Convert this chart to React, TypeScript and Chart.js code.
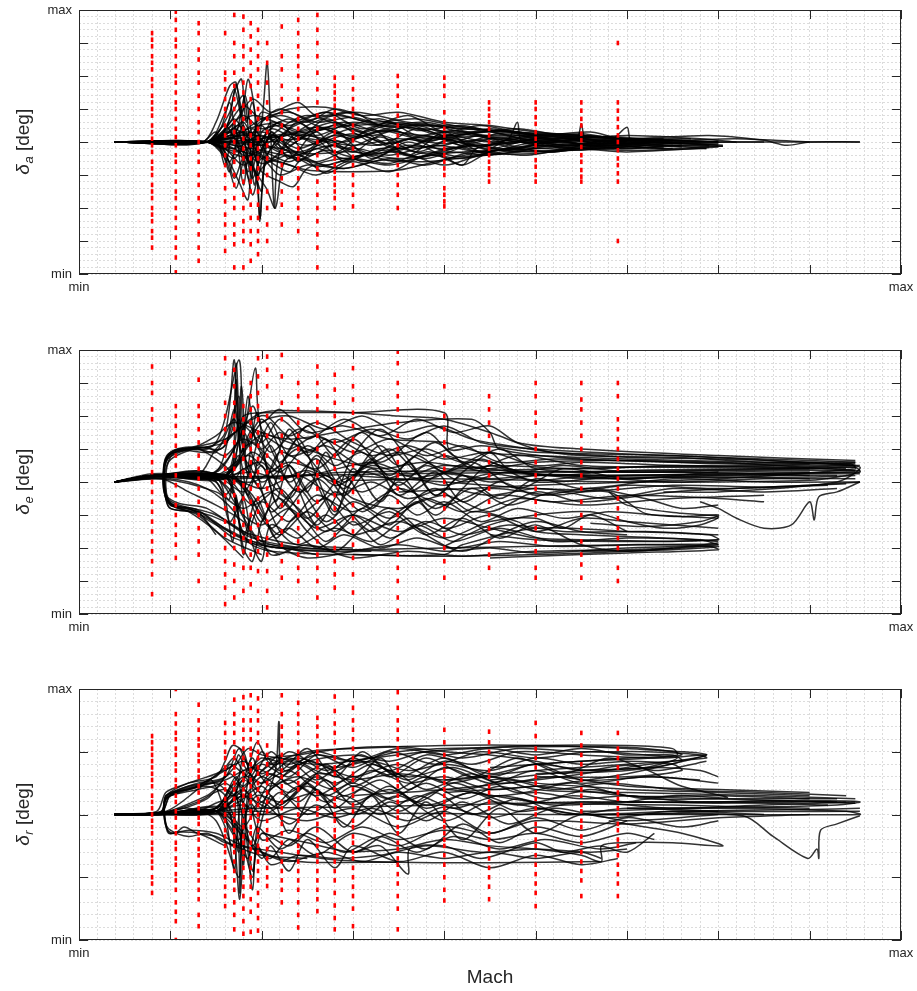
import React, { useEffect, useRef } from 'react';
import { Chart, registerables } from 'chart.js';
Chart.register(...registerables);

const FONT = '"Liberation Sans", Arial, Helvetica, sans-serif';

// Mach axis (normalised, labels "min" .. "max")
const machMin = 0;
const machMax = 9;
// Mach grid points where the red design samples sit
const machGrid = [0.8, 1.06, 1.31, 1.6, 1.7, 1.8, 1.88, 1.96, 2.06, 2.22, 2.4, 2.61, 2.8, 3.0, 3.49, 4.0, 4.49, 5.0, 5.5, 5.9];

// ---------- red sample points (one list of deflections per Mach grid point) ----------
const redA = [
  [3.3, 3.1, 2.9, 2.6, 2.4, 2.2, 1.9, 1.7, 1.4, 1.2, 1.0, 0.8, 0.5, 0.3, 0.1, -0.1, -0.3, -0.6, -0.8, -1.0, -1.3, -1.5, -1.7, -2.0, -2.2, -2.4, -2.7, -2.9, -3.2],
  [3.95, 3.7, 3.4, 3.1, 2.9, 2.6, 2.3, 2.0, 1.8, 1.5, 1.2, 1.0, 0.7, 0.4, 0.15, -0.1, -0.4, -0.6, -0.9, -1.2, -1.5, -1.7, -2.0, -2.3, -2.6, -2.9, -3.2, -3.5, -3.95],
  [3.6, 3.3, 2.8, 2.5, 2.1, 1.8, 1.4, 1.0, 0.6, 0.3, 0.0, -0.3, -0.6, -1.0, -1.3, -1.7, -2.1, -2.4, -2.8, -3.2, -3.6],
  [3.3, 2.1, 1.9, 1.6, 1.3, 1.0, 0.8, 0.5, 0.2, -0.1, -0.4, -0.7, -1.0, -1.4, -1.8, -2.2, -2.5, -2.9, -3.3],
  [3.85, 3.0, 2.6, 2.1, 1.7, 1.3, 1.0, 0.6, 0.3, 0.0, -0.3, -0.6, -1.0, -1.3, -1.7, -2.0, -2.5, -2.8, -3.1, -3.8],
  [3.8, 3.4, 2.9, 2.6, 2.2, 1.8, 1.5, 1.1, 0.7, 0.4, 0.1, -0.2, -0.5, -0.9, -1.2, -1.6, -2.0, -2.4, -2.7, -3.0, -3.8],
  [3.6, 3.2, 2.8, 2.4, 2.0, 1.7, 1.3, 0.9, 0.6, 0.2, -0.1, -0.5, -0.8, -1.2, -1.5, -1.9, -2.3, -2.7, -3.1, -3.6],
  [3.4, 3.0, 2.6, 2.2, 1.8, 1.4, 1.0, 0.7, 0.4, 0.1, -0.2, -0.5, -0.8, -1.1, -1.5, -1.9, -2.3, -2.7, -3.0, -3.4],
  [3.0, 2.4, 1.8, 1.2, 0.7, 0.3, -0.1, -0.5, -1.0, -1.5, -2.0, -2.5, -3.0],
  [3.5, 2.6, 2.2, 1.7, 1.3, 0.9, 0.5, 0.1, -0.3, -0.7, -1.1, -1.5, -1.9, -2.5],
  [3.7, 3.3, 2.9, 2.6, 2.3, 2.0, 1.6, 1.3, 1.0, 0.7, 0.4, 0.1, -0.2, -0.5, -0.8, -1.1, -1.4, -1.7, -2.0, -2.3, -2.7],
  [3.85, 3.4, 3.0, 2.6, 2.1, 1.6, 1.2, 0.8, 0.4, 0.0, -0.4, -0.8, -1.2, -1.6, -2.0, -2.4, -2.8, -3.2, -3.8],
  [1.95, 1.7, 1.5, 1.3, 1.1, 0.9, 0.7, 0.5, 0.3, 0.1, -0.1, -0.3, -0.5, -0.7, -0.9, -1.1, -1.3, -1.5, -1.7, -2.0],
  [1.95, 1.6, 1.3, 1.0, 0.8, 0.5, 0.3, 0.05, -0.2, -0.45, -0.7, -1.0, -1.3, -1.6, -1.95],
  [2.0, 1.7, 1.4, 1.1, 0.8, 0.5, 0.2, -0.1, -0.4, -0.7, -1.0, -1.3, -1.6, -2.0],
  [1.95, 1.7, 1.4, 0.9, 0.6, 0.4, 0.2, 0.0, -0.2, -0.4, -0.6, -0.8, -1.0, -1.4, -1.6, -1.8, -1.95],
  [1.2, 1.0, 0.8, 0.6, 0.4, 0.2, 0.0, -0.2, -0.4, -0.6, -0.8, -1.0, -1.2],
  [1.2, 1.0, 0.75, 0.55, 0.3, 0.1, -0.1, -0.3, -0.55, -0.75, -1.0, -1.2],
  [1.2, 0.95, 0.7, 0.5, 0.25, 0.05, -0.15, -0.4, -0.6, -0.85, -1.05, -1.2],
  [3.0, 1.2, 0.95, 0.7, 0.45, 0.2, 0.0, -0.25, -0.5, -0.7, -0.95, -1.2, -3.0],
];

const redE = [
  [3.5, 3.0, 2.7, 2.2, 1.9, 1.5, 1.2, 0.9, 0.6, 0.3, 0.0, -0.3, -0.6, -0.9, -1.2, -1.5, -1.8, -2.1, -2.4, -2.8, -3.4],
  [2.3, 2.0, 1.7, 1.4, 1.1, 0.8, 0.5, 0.2, -0.1, -0.4, -0.7, -1.0, -1.3, -1.6, -1.9, -2.3],
  [3.1, 2.3, 2.0, 1.6, 1.2, 0.8, 0.4, 0.1, -0.2, -0.6, -1.0, -1.4, -1.8, -2.2, -3.0],
  [3.75, 3.3, 2.4, 2.0, 1.6, 1.2, 0.8, 0.4, 0.0, -0.4, -0.8, -1.2, -1.6, -2.0, -2.4, -2.8, -3.2, -3.7],
  [3.4, 2.9, 2.4, 2.0, 1.6, 1.2, 0.8, 0.4, 0.0, -0.4, -0.8, -1.2, -1.6, -2.0, -2.5, -3.0, -3.5],
  [2.3, 1.9, 1.5, 1.1, 0.7, 0.3, -0.1, -0.5, -0.9, -1.3, -1.7, -2.1, -2.6, -3.3],
  [3.0, 2.6, 2.2, 1.8, 1.4, 1.0, 0.6, 0.2, -0.2, -0.6, -1.0, -1.4, -1.8, -2.2, -2.6, -3.1],
  [3.75, 3.2, 2.7, 2.3, 1.9, 1.5, 1.1, 0.7, 0.3, -0.1, -0.5, -0.9, -1.3, -1.7, -2.1, -2.7],
  [3.8, 3.4, 2.9, 2.0, 1.4, 0.8, 0.3, -0.2, -0.7, -1.2, -1.7, -2.2, -2.7, -3.3, -3.8],
  [3.85, 3.2, 2.4, 1.9, 1.4, 0.9, 0.5, 0.1, -0.3, -0.7, -1.1, -1.5, -1.9, -2.4, -2.9],
  [3.0, 2.6, 2.2, 1.8, 1.4, 1.0, 0.6, 0.2, -0.2, -0.6, -1.0, -1.4, -1.8, -2.2, -2.6, -3.0],
  [3.5, 3.0, 2.6, 2.2, 1.8, 1.4, 1.0, 0.6, 0.2, -0.2, -0.6, -1.0, -1.4, -1.8, -2.2, -2.6, -3.0, -3.5],
  [3.25, 2.8, 2.4, 2.0, 1.6, 1.2, 0.8, 0.4, 0.0, -0.4, -0.8, -1.2, -1.6, -2.0, -2.4, -2.8, -3.2],
  [3.45, 2.9, 2.5, 2.1, 1.7, 1.3, 0.9, 0.5, 0.1, -0.3, -0.7, -1.1, -1.5, -1.9, -2.3, -2.8, -3.35],
  [3.95, 3.6, 3.0, 2.6, 2.2, 1.8, 1.4, 1.0, 0.6, 0.2, -0.2, -0.6, -1.0, -1.4, -1.8, -2.2, -2.6, -3.0, -3.5, -3.9],
  [2.9, 2.4, 2.0, 1.6, 1.2, 0.8, 0.4, 0.0, -0.4, -0.8, -1.2, -1.6, -2.0, -2.4, -2.9],
  [2.6, 2.2, 1.8, 1.4, 1.0, 0.6, 0.2, -0.2, -0.6, -1.0, -1.4, -1.8, -2.2, -2.6],
  [3.0, 2.6, 2.1, 1.8, 1.4, 1.0, 0.6, 0.2, -0.2, -0.6, -1.0, -1.4, -1.8, -2.1, -2.6, -2.9],
  [3.0, 2.5, 2.2, 1.8, 1.4, 1.0, 0.6, 0.2, -0.2, -0.6, -1.0, -1.4, -1.8, -2.2, -2.5, -2.9],
  [3.0, 2.6, 1.9, 1.6, 1.3, 1.0, 0.7, 0.4, 0.1, -0.2, -0.5, -0.8, -1.1, -1.4, -1.7, -2.0, -2.6, -3.0],
];

const redR = [
  [1.25, 1.15, 1.05, 0.95, 0.85, 0.75, 0.65, 0.55, 0.45, 0.3, 0.2, 0.1, 0.0, -0.1, -0.2, -0.3, -0.45, -0.55, -0.65, -0.75, -0.85, -1.0, -1.1, -1.25],
  [2.0, 1.6, 1.45, 1.3, 1.2, 1.05, 0.95, 0.8, 0.7, 0.55, 0.45, 0.3, 0.2, 0.05, -0.05, -0.2, -0.3, -0.45, -0.55, -0.7, -0.8, -0.95, -1.05, -1.2, -1.4, -1.55, -1.7, -2.0],
  [1.75, 1.5, 1.35, 1.2, 1.1, 0.95, 0.85, 0.7, 0.6, 0.45, 0.35, 0.2, 0.1, -0.05, -0.15, -0.3, -0.4, -0.55, -0.65, -0.8, -0.9, -1.05, -1.2, -1.35, -1.6, -1.78],
  [1.46, 1.3, 1.15, 1.0, 0.9, 0.75, 0.65, 0.5, 0.4, 0.25, 0.15, 0.0, -0.1, -0.25, -0.35, -0.5, -0.6, -0.75, -0.85, -1.0, -1.15, -1.3, -1.46],
  [1.83, 1.6, 1.45, 1.3, 1.15, 1.0, 0.9, 0.75, 0.65, 0.5, 0.4, 0.25, 0.15, 0.0, -0.1, -0.25, -0.35, -0.5, -0.6, -0.75, -0.9, -1.05, -1.2, -1.4, -1.6, -1.83],
  [1.87, 1.7, 1.5, 1.35, 1.2, 1.05, 0.9, 0.8, 0.65, 0.55, 0.4, 0.3, 0.15, 0.05, -0.1, -0.2, -0.35, -0.45, -0.6, -0.7, -0.85, -1.0, -1.15, -1.3, -1.5, -1.7, -1.9],
  [1.9, 1.7, 1.5, 1.35, 1.2, 1.05, 0.95, 0.8, 0.7, 0.55, 0.45, 0.3, 0.2, 0.05, -0.05, -0.2, -0.3, -0.45, -0.55, -0.7, -0.85, -1.0, -1.15, -1.35, -1.55, -1.87],
  [1.85, 1.65, 1.5, 1.3, 1.15, 1.0, 0.9, 0.75, 0.65, 0.5, 0.4, 0.25, 0.15, 0.0, -0.1, -0.25, -0.35, -0.5, -0.6, -0.75, -0.9, -1.05, -1.25, -1.45, -1.65, -1.85],
  [1.1, 0.95, 0.8, 0.65, 0.5, 0.35, 0.2, 0.05, -0.1, -0.25, -0.4, -0.55, -0.7, -0.85, -1.0, -1.14],
  [1.9, 1.6, 1.4, 1.25, 1.1, 0.95, 0.85, 0.7, 0.6, 0.45, 0.35, 0.2, 0.1, -0.05, -0.15, -0.3, -0.45, -0.6, -0.75, -0.9, -1.05, -1.2, -1.4],
  [1.78, 1.6, 1.45, 1.3, 1.15, 1.0, 0.9, 0.75, 0.65, 0.5, 0.4, 0.25, 0.15, 0.0, -0.1, -0.25, -0.35, -0.5, -0.6, -0.75, -0.9, -1.05, -1.2, -1.4, -1.6, -1.8],
  [1.54, 1.4, 1.25, 1.1, 1.0, 0.85, 0.75, 0.6, 0.5, 0.35, 0.25, 0.1, 0.0, -0.15, -0.25, -0.4, -0.5, -0.65, -0.75, -0.9, -1.05, -1.2, -1.35, -1.54],
  [1.88, 1.65, 1.45, 1.3, 1.15, 1.0, 0.9, 0.75, 0.65, 0.5, 0.4, 0.25, 0.15, 0.0, -0.1, -0.25, -0.35, -0.5, -0.6, -0.75, -0.9, -1.05, -1.25, -1.45, -1.65, -1.83],
  [1.7, 1.5, 1.35, 1.2, 1.05, 0.9, 0.8, 0.65, 0.55, 0.4, 0.3, 0.15, 0.05, -0.1, -0.2, -0.35, -0.45, -0.6, -0.7, -0.85, -1.0, -1.15, -1.3, -1.5, -1.78],
  [1.95, 1.7, 1.5, 1.35, 1.2, 1.05, 0.95, 0.8, 0.7, 0.55, 0.45, 0.3, 0.2, 0.05, -0.05, -0.2, -0.3, -0.45, -0.55, -0.7, -0.8, -0.95, -1.1, -1.3, -1.5, -1.83],
  [1.35, 1.15, 0.95, 0.8, 0.7, 0.6, 0.5, 0.4, 0.3, 0.2, 0.1, 0.0, -0.1, -0.2, -0.3, -0.4, -0.5, -0.65, -0.8, -1.0, -1.2, -1.37],
  [1.32, 1.15, 1.0, 0.85, 0.7, 0.6, 0.45, 0.35, 0.2, 0.1, -0.05, -0.15, -0.3, -0.4, -0.55, -0.7, -0.85, -1.0, -1.15, -1.35],
  [1.46, 1.25, 1.05, 0.9, 0.75, 0.6, 0.5, 0.35, 0.25, 0.1, 0.0, -0.15, -0.25, -0.4, -0.5, -0.65, -0.8, -0.95, -1.1, -1.25, -1.46],
  [1.3, 1.1, 0.95, 0.8, 0.65, 0.55, 0.4, 0.3, 0.15, 0.05, -0.1, -0.2, -0.35, -0.45, -0.6, -0.75, -0.9, -1.05, -1.3],
  [1.3, 1.05, 0.9, 0.75, 0.6, 0.5, 0.35, 0.25, 0.1, 0.0, -0.15, -0.25, -0.4, -0.5, -0.65, -0.8, -0.95, -1.1, -1.3],
];

// ---------- black trajectories: [Mach, deflection] pairs ----------
const tracesA = [
  [[0.39, 0], [1.35, 0], [1.5, 0.6], [1.65, 1.7], [1.72, 1.8], [1.8, 0.2], [1.9, -0.8], [2.0, 0.3], [2.2, 0.5], [2.6, 0.2], [3.0, 0.6], [3.5, 0.3], [4.0, 0.1], [4.5, -0.2], [5.0, 0.1], [5.6, -0.1], [6.2, 0.0]],
  [[0.39, 0], [1.4, 0], [1.6, 0.9], [1.7, 1.6], [1.78, 0.8], [1.85, 1.9], [1.92, 1.0], [1.98, -2.3], [2.05, -0.5], [2.3, 0.4], [2.8, 0.8], [3.3, 0.5], [3.8, 0.4], [4.3, 0.2], [4.9, 0.0], [5.5, 0.2], [6.3, 0.0], [7.0, -0.1]],
  [[0.39, 0], [1.4, 0], [1.7, 0.3], [1.9, -0.4], [2.0, 0.6], [2.06, 2.4], [2.1, 0.2], [2.14, -2.0], [2.2, -0.3], [2.5, 0.5], [3.0, 0.9], [3.6, 0.6], [4.2, 0.4], [4.8, 0.3], [5.4, 0.1], [6.0, 0.0], [6.87, -0.2]],
  [[0.39, 0], [1.4, 0], [1.6, -0.4], [1.75, -1.2], [1.85, -1.75], [1.9, -0.3], [2.0, -0.9], [2.2, -1.2], [2.35, -1.35], [2.5, -0.8], [2.9, -0.5], [3.4, -0.7], [3.9, -0.4], [4.2, -0.7], [4.5, -0.3], [5.0, -0.2], [5.8, -0.1], [6.4, -0.2]],
  [[0.39, 0], [1.4, 0], [1.8, -0.3], [2.2, -0.6], [2.5, -0.85], [3.0, -0.9], [3.5, -0.85], [3.9, -0.6], [4.4, -0.3], [5.0, -0.15], [6.0, -0.1], [7.05, -0.13]],
  [[0.39, 0], [1.4, 0], [1.6, 0.4], [1.8, 1.1], [2.0, 0.7], [2.3, 1.0], [2.7, 1.05], [3.1, 0.8], [3.5, 0.9], [4.0, 0.6], [4.5, 0.5], [5.0, 0.3], [5.5, 0.2], [6.0, 0.1], [6.9, 0.2], [7.5, 0.05], [7.75, -0.1], [8.0, 0.0], [8.55, 0.0]],
  [[0.39, 0], [1.45, 0], [1.7, -0.5], [1.9, 0.4], [2.1, -0.2], [2.4, 0.6], [2.8, -0.3], [3.2, 0.4], [3.6, -0.4], [4.0, 0.3], [4.4, -0.3], [4.8, 0.2], [5.3, -0.2], [5.8, 0.1], [6.5, 0.0]],
  [[0.39, 0], [1.35, 0], [1.5, 0.3], [1.65, -0.6], [1.8, 0.5], [1.95, -1.0], [2.1, 0.3], [2.3, -0.5], [2.6, 0.3], [2.9, -0.6], [3.3, -0.2], [3.8, -0.5], [4.3, -0.1], [4.8, -0.3], [5.2, 0.0], [5.9, -0.2], [6.6, -0.1]],
  [[0.39, 0], [1.4, 0], [1.6, 0.5], [1.75, -0.2], [1.88, -1.2], [1.95, 0.5], [2.2, 0.8], [2.5, 0.6], [2.8, 1.0], [3.2, 0.7], [3.6, 0.5], [4.1, 0.5], [4.6, 0.3], [5.1, 0.2], [5.7, 0.1], [6.3, 0.05]],
  [[0.39, 0], [1.45, 0], [1.6, -0.3], [1.7, -1.1], [1.8, -0.5], [1.9, -1.6], [2.0, -0.8], [2.3, -0.3], [2.7, -0.7], [3.1, -0.4], [3.5, -0.6], [4.0, -0.3], [4.5, -0.4], [5.0, -0.2], [5.5, -0.25], [6.2, -0.1]],
  [[0.39, 0], [1.35, 0], [1.55, 0.2], [1.7, 0.7], [1.85, 0.2], [2.0, 0.5], [2.2, -0.2], [2.5, 0.2], [2.8, 0.5], [3.1, 0.3], [3.4, 0.6], [3.7, 0.2], [4.1, 0.35], [4.6, 0.1], [5.1, 0.2], [5.6, 0.0], [6.0, 0.1], [6.7, 0.0], [7.5, 0.0]],
  [[0.39, 0], [1.4, 0], [1.8, 0.1], [2.0, -0.4], [2.3, -0.9], [2.45, -0.5], [2.7, -0.95], [3.0, -0.6], [3.4, -0.9], [3.8, -0.4], [4.2, -0.5], [4.7, -0.2], [5.2, -0.3], [5.8, -0.05], [6.4, -0.15]],
  [[0.39, 0], [1.4, 0], [1.7, 0.6], [1.9, 1.3], [2.1, 0.9], [2.4, 1.2], [2.6, 0.8], [3.0, 0.9], [3.3, 0.5], [3.8, 0.6], [4.3, 0.3], [4.8, 0.4], [5.3, 0.2], [5.9, 0.15], [6.5, 0.05], [7.2, 0.1], [8.0, 0.0]],
  [[0.39, 0], [1.4, 0], [1.6, -0.2], [1.8, 0.6], [2.0, -0.5], [2.2, 0.1], [2.4, -0.6], [2.7, 0.1], [3.0, -0.3], [3.3, 0.2], [3.7, -0.2], [4.1, 0.1], [4.5, -0.1], [5.0, 0.05], [5.6, -0.05], [6.1, 0.0]],
  [[0.39, 0], [1.45, 0], [1.65, 0.3], [1.85, -0.6], [2.05, -1.4], [2.15, -2.0], [2.25, -0.6], [2.5, -0.3], [2.8, -0.1], [3.2, -0.4], [3.6, -0.1], [4.0, -0.2], [4.8, 0.0], [5.4, -0.1], [6.0, 0.0]],
  [[0.39, 0], [1.4, 0], [1.55, 0.1], [1.75, 0.5], [1.9, -0.3], [2.1, 0.4], [2.4, 0.1], [2.7, 0.7], [3.0, 0.3], [3.3, -0.1], [3.7, 0.4], [4.2, 0.0], [4.6, 0.25], [5.2, 0.05], [5.45, 0.1], [5.5, 0.55], [5.55, 0.1], [6.0, 0.05]],
  [[0.39, 0], [1.4, 0], [1.7, -0.2], [2.0, 0.2], [2.4, -0.4], [2.8, 0.3], [3.2, -0.5], [3.6, 0.0], [4.0, -0.45], [4.2, -0.7], [4.35, -0.2], [4.7, 0.1], [4.8, 0.6], [4.85, 0.0], [5.2, -0.1], [5.8, 0.0], [6.0, 0.45], [6.05, 0.0], [6.6, -0.05]],
  [[0.39, 0], [1.4, 0], [1.65, 0.9], [1.72, 1.75], [1.8, 0.5], [1.85, -0.5], [1.95, 0.4], [2.2, 1.0], [2.6, 0.5], [3.0, 0.2], [3.5, 0.6], [4.0, 0.2], [4.6, 0.35], [5.2, 0.1], [6.0, 0.2], [6.8, 0.1], [7.2, 0.0]],
  [[0.39, 0], [1.4, 0], [1.7, 0.1], [1.9, -0.8], [2.0, -1.5], [2.05, -0.6], [2.3, -0.7], [2.6, -1.0], [3.0, -0.5], [3.5, -0.3], [4.0, -0.7], [4.4, -0.4], [5.0, -0.35], [5.5, -0.2], [6.0, -0.25], [6.87, -0.2]],
  [[0.39, 0], [1.4, 0], [1.6, 0.1], [2.0, 0.3], [2.5, -0.1], [3.0, 0.4], [3.5, -0.2], [4.0, 0.2], [4.5, 0.0], [5.0, 0.15], [5.5, -0.05], [6.0, 0.1], [6.5, 0.0], [7.05, -0.1]],
  [[0.39, 0], [1.45, 0], [1.7, 0.4], [1.95, 0.0], [2.2, 0.6], [2.5, -0.4], [2.8, -0.1], [3.1, -0.6], [3.5, -0.2], [4.0, -0.1], [4.4, 0.2], [4.8, -0.15], [5.3, 0.1], [5.8, -0.1], [6.3, 0.0]],
  [[0.39, 0], [1.4, 0], [1.55, -0.2], [1.65, -0.9], [1.75, 0.3], [1.85, -0.9], [1.95, 0.2], [2.1, -0.5], [2.4, 0.2], [2.9, 0.0], [3.3, 0.35], [3.8, 0.05], [4.5, 0.3], [5.0, 0.0], [5.7, 0.15], [6.2, 0.0], [7.0, 0.0], [8.55, 0.0]],
  [[0.39, 0], [1.4, 0], [1.6, 0.2], [1.9, 0.8], [2.3, 0.5], [2.7, 0.9], [3.1, 0.4], [3.6, 0.8], [4.0, 0.3], [4.4, 0.5], [5.0, 0.2], [5.6, 0.3], [6.0, 0.0]],
  [[0.39, 0], [1.4, 0], [1.9, -0.2], [2.4, -0.5], [2.9, -0.8], [3.4, -0.5], [3.8, -0.7], [4.3, -0.3], [4.9, -0.4], [5.4, -0.2], [6.0, -0.3], [7.0, -0.15]],
  [[0.39, 0], [1.4, 0], [1.7, 0.2], [2.0, -0.1], [2.3, 0.3], [2.6, 0.0], [3.0, 0.25], [3.4, -0.05], [3.8, 0.2], [4.2, -0.1], [4.6, 0.15], [5.0, -0.05], [5.5, 0.1], [6.0, -0.05], [6.5, 0.05], [7.0, 0.0]],
  [[0.39, 0], [1.4, 0], [1.75, -0.3], [2.1, 0.1], [2.4, -0.3], [2.8, 0.05], [3.2, -0.35], [3.6, 0.1], [4.0, -0.25], [4.4, 0.05], [4.8, -0.2], [5.2, 0.05], [5.7, -0.15], [6.2, 0.0], [6.9, -0.1]],
  [[0.39, 0], [1.4, 0], [1.6, 0.3], [1.8, 0.8], [2.0, 0.4], [2.3, 0.7], [2.6, 0.35], [2.9, 0.6], [3.3, 0.3], [3.7, 0.5], [4.1, 0.2], [4.5, 0.4], [5.0, 0.15], [5.5, 0.25], [6.0, 0.05], [6.4, 0.1]],
  [[0.39, 0], [1.4, 0], [1.6, -0.2], [1.8, -0.7], [2.0, -0.3], [2.3, -0.6], [2.6, -0.2], [2.9, -0.5], [3.3, -0.25], [3.7, -0.45], [4.1, -0.15], [4.5, -0.35], [5.0, -0.1], [5.5, -0.2], [6.0, -0.05], [6.6, -0.15]],
  [[0.39, 0], [1.4, 0], [1.8, 0.2], [2.2, 0.15], [2.6, 0.45], [3.0, 0.1], [3.4, 0.4], [3.8, 0.0], [4.2, 0.3], [4.7, -0.05], [5.2, 0.2], [5.7, -0.05], [6.2, 0.1], [6.8, 0.0]],
  [[0.39, 0], [1.4, 0], [1.85, 0.3], [2.2, -0.3], [2.5, 0.2], [2.9, -0.2], [3.3, 0.15], [3.7, -0.3], [4.1, 0.1], [4.5, -0.25], [5.0, 0.0], [5.4, -0.1], [6.0, 0.05], [6.5, -0.05]],
  [[0.39, 0], [1.4, 0], [1.55, 0.4], [1.65, 1.2], [1.72, 0.3], [1.82, 1.4], [1.9, 0.2], [2.0, 0.9], [2.3, 0.6], [2.7, 0.9], [3.2, 0.6], [3.7, 0.7], [4.2, 0.45], [4.8, 0.3], [5.4, 0.2], [6.0, 0.1], [6.7, 0.1]],
  [[0.39, 0], [1.4, 0], [1.6, -0.5], [1.72, -1.4], [1.82, -0.4], [1.9, -1.1], [2.0, -0.5], [2.2, -1.0], [2.5, -0.7], [2.9, -0.8], [3.3, -0.55], [3.8, -0.6], [4.3, -0.45], [4.8, -0.3], [5.4, -0.25], [6.0, -0.15], [6.5, -0.2]],
  [[0.39, 0], [1.4, 0], [2.0, 0.1], [2.5, 0.3], [3.0, 0.5], [3.5, 0.55], [4.0, 0.45], [4.5, 0.35], [5.0, 0.25], [5.5, 0.15], [6.0, 0.1], [6.5, 0.05], [7.0, 0.0]],
  [[0.39, 0], [1.4, 0], [2.0, -0.1], [2.5, -0.35], [3.0, -0.3], [3.5, -0.5], [4.0, -0.35], [4.5, -0.25], [5.0, -0.3], [5.5, -0.15], [6.0, -0.2], [6.5, -0.1], [7.05, -0.13]],
  [[0.39, 0], [1.4, 0], [1.62, 0.5], [1.7, 1.5], [1.78, 1.9], [1.83, 0.6], [1.9, 1.2], [2.0, -0.2], [2.1, 0.6], [2.4, 0.3], [2.8, 0.6], [3.2, 0.2], [3.6, 0.45], [4.0, 0.15], [4.6, 0.2], [5.2, 0.0], [5.8, 0.1], [6.3, 0.0]],
  [[0.39, 0], [1.4, 0], [1.7, -0.2], [1.93, -0.9], [1.98, -2.4], [2.02, -0.8], [2.1, 0.3], [2.3, -0.2], [2.6, -0.6], [3.0, -0.2], [3.4, -0.4], [3.9, -0.1], [4.4, -0.3], [5.0, -0.1], [5.6, -0.2], [6.2, -0.05]],
  [[0.39, 0], [1.4, 0], [1.8, 0.35], [2.1, 0.55], [2.4, 0.2], [2.7, 0.45], [3.0, 0.15], [3.4, 0.35], [3.8, 0.1], [4.3, 0.25], [4.8, 0.05], [5.3, 0.15], [5.9, 0.0], [6.5, 0.05]],
  [[0.39, 0], [1.4, 0], [1.8, -0.45], [2.1, -0.15], [2.4, -0.55], [2.7, -0.25], [3.0, -0.45], [3.4, -0.15], [3.8, -0.35], [4.3, -0.1], [4.8, -0.25], [5.3, -0.05], [5.9, -0.15], [6.4, -0.05]],
  [[0.39, 0], [1.4, 0], [1.7, 0.15], [2.0, 0.7], [2.3, 0.9], [2.6, 0.6], [3.0, 0.75], [3.4, 0.45], [3.8, 0.55], [4.2, 0.3], [4.7, 0.35], [5.2, 0.1], [5.8, 0.15], [6.3, 0.0]],
  [[0.39, 0], [1.4, 0], [1.7, -0.1], [2.0, -0.65], [2.3, -0.4], [2.6, -0.75], [3.0, -0.5], [3.4, -0.65], [3.8, -0.3], [4.2, -0.45], [4.7, -0.2], [5.2, -0.3], [5.8, -0.1], [6.3, -0.2], [6.9, -0.15]],
  [[0.39, 0], [1.4, 0], [2.0, 0.0], [2.5, 0.1], [3.0, -0.1], [3.5, 0.1], [4.0, -0.05], [4.5, 0.1], [5.0, -0.05], [5.5, 0.05], [6.0, -0.05], [6.5, 0.0], [7.0, 0.02]],
  [[0.39, 0], [1.4, 0], [1.5, 0.2], [1.6, -0.7], [1.7, 0.6], [1.8, -1.3], [1.88, 0.3], [1.95, -0.6], [2.1, 0.2], [2.4, -0.2], [2.8, 0.2], [3.2, -0.1], [3.8, 0.15], [4.4, -0.1], [5.0, 0.1], [5.6, 0.0], [6.2, 0.05]],
  [[0.39, 0], [1.4, 0], [1.55, 0.15], [1.7, 1.0], [1.8, 1.4], [1.86, 0.2], [1.92, -1.3], [2.0, -0.2], [2.2, 0.4], [2.5, 0.8], [2.9, 0.5], [3.3, 0.7], [3.7, 0.35], [4.2, 0.5], [4.7, 0.2], [5.3, 0.25], [6.0, 0.05]],
  [[0.39, 0], [1.4, 0], [1.9, 0.05], [2.3, 0.25], [2.7, -0.15], [3.1, 0.2], [3.5, -0.25], [3.9, 0.15], [4.3, -0.2], [4.8, 0.1], [5.3, -0.1], [5.8, 0.05], [6.4, -0.05], [7.0, -0.05]],
];

const tracesE = [
  [[0.39, 0], [0.8, 0.2], [1.5, 0.15], [2.5, 0.2], [3.5, 0.25], [5.0, 0.3], [6.5, 0.35], [8.0, 0.4], [8.5, 0.45], [8.55, 0.3], [8.0, 0.05], [6.0, 0.0], [4.0, 0.1], [3.0, 0.05]],
  [[0.39, 0], [0.8, 0.25], [1.3, 0.2], [2.0, 0.15], [3.0, 0.3], [4.5, 0.35], [6.0, 0.45], [7.5, 0.5], [8.45, 0.55], [8.5, 0.4], [7.0, 0.1], [5.0, -0.1], [3.5, -0.3]],
  [[0.39, 0], [0.8, 0.15], [1.6, 0.1], [2.5, 0.2], [3.2, 0.6], [3.6, 0.3], [4.0, 0.8], [4.4, 0.4], [5.0, 0.6], [6.0, 0.65], [7.0, 0.55], [8.0, 0.5], [8.55, 0.45], [8.3, 0.0], [7.0, -0.3], [6.4, -0.3]],
  [[3.0, -2.0], [2.4, -1.9], [1.8, -1.5], [1.4, -0.8], [1.1, -0.65], [0.95, -0.4], [0.92, 0.2], [0.96, 0.8], [1.1, 1.0], [1.4, 1.0], [1.6, 1.5], [1.7, 3.7], [1.75, 1.2], [1.8, 2.0], [2.1, 2.1], [3.0, 2.1], [4.0, 2.1], [4.05, 1.0], [4.4, 1.1], [5.0, 0.9], [6.5, 0.8], [8.5, 0.5]],
  [[2.6, -2.2], [2.0, -1.8], [1.5, -1.0], [1.1, -0.7], [0.97, -0.5], [0.93, 0.0], [0.95, 0.7], [1.1, 0.95], [1.5, 1.2], [1.75, 3.7], [1.8, 1.4], [1.93, 3.45], [2.0, 1.6], [2.3, 1.3], [2.8, 1.5], [3.5, 1.8], [4.3, 1.9], [4.5, 1.5], [4.6, 1.0], [5.5, 0.7], [7.0, 0.6], [8.5, 0.35]],
  [[3.5, -2.1], [2.5, -2.0], [1.9, -1.7], [1.6, -1.2], [1.3, -0.9], [1.0, -0.8], [0.94, -0.3], [0.95, 0.4], [1.05, 0.9], [1.3, 1.1], [1.5, 1.4], [1.7, 1.8], [2.0, 1.5], [2.4, 1.1], [2.8, 0.7], [3.3, 0.4], [3.8, 0.6], [4.5, 0.3], [5.5, 0.2], [7.0, 0.25], [8.55, 0.3]],
  [[0.39, 0], [0.9, 0.1], [1.2, -0.3], [1.5, -0.7], [1.8, -1.2], [2.0, -1.9], [2.4, -2.0], [3.0, -2.05], [4.0, -2.0], [5.0, -1.95], [6.0, -1.9], [7.0, -1.9], [6.0, -2.1], [5.0, -2.2], [4.0, -2.25], [3.0, -2.2]],
  [[0.39, 0], [1.0, 0.1], [1.4, -0.2], [1.7, -0.9], [1.85, -1.8], [2.1, -2.1], [3.0, -2.2], [4.0, -2.2], [4.2, -1.9], [5.0, -1.4], [6.0, -1.5], [6.9, -1.6], [7.0, -1.75], [6.0, -1.8], [5.0, -1.75], [4.5, -1.6]],
  [[2.2, -2.2], [1.7, -1.6], [1.3, -0.85], [1.05, -0.7], [0.95, -0.45], [0.92, 0.1], [0.97, 0.7], [1.2, 1.0], [1.6, 1.3], [1.9, 1.9], [2.05, 2.0], [2.3, 1.4], [2.6, 1.8], [3.0, 1.2], [3.4, 0.8], [3.8, 1.0], [4.2, 0.6], [4.5, 0.9], [4.7, 0.4], [5.2, 0.3], [6.5, 0.3], [8.0, 0.2]],
  [[0.39, 0], [0.8, 0.2], [1.5, 0.2], [1.8, -0.3], [2.0, 0.5], [2.2, -0.8], [2.5, 0.3], [2.8, -1.0], [3.0, 0.4], [3.3, -0.6], [3.6, 0.6], [3.9, -0.4], [4.2, 0.2], [4.6, -0.5], [5.0, 0.1], [5.5, -0.2], [6.5, 0.1], [7.5, 0.0], [8.55, 0.0]],
  [[0.39, 0], [0.8, 0.2], [1.6, 0.1], [1.9, 1.2], [2.1, 0.4], [2.3, 1.6], [2.5, 0.8], [2.7, 1.3], [3.0, 0.3], [3.4, 1.0], [3.8, 0.1], [4.3, 0.6], [4.8, -0.2], [5.3, 0.4], [6.0, 0.1], [7.0, 0.3], [8.0, 0.3]],
  [[0.39, 0], [0.8, 0.2], [1.7, 0.15], [2.0, -1.0], [2.2, -1.6], [2.5, -0.9], [2.8, -1.5], [3.1, -0.8], [3.4, -1.3], [3.7, -0.6], [4.0, -1.4], [4.5, -1.0], [5.0, -1.5], [5.5, -1.1], [6.0, -1.2], [6.5, -1.3], [7.0, -1.4]],
  [[3.0, 0.2], [4.0, 0.0], [5.0, -0.2], [5.8, -0.3], [6.0, -0.6], [6.2, -0.95], [6.6, -1.05], [7.0, -1.0], [6.8, -1.2], [6.2, -1.35], [5.6, -1.25]],
  [[0.39, 0], [0.85, 0.15], [1.5, 0.3], [1.7, 2.2], [1.78, 0.9], [1.85, 2.6], [1.95, 1.1], [2.1, 1.8], [2.3, 0.8], [2.7, 1.1], [3.1, 0.5], [3.5, 0.9], [4.0, 0.4], [4.6, 0.5], [5.5, 0.4], [6.5, 0.5], [7.8, 0.45], [8.5, 0.5]],
  [[0.39, 0], [0.85, 0.2], [1.5, 0.0], [1.65, -1.2], [1.8, -0.5], [1.9, -1.9], [2.0, -2.4], [2.1, -1.3], [2.4, -1.7], [2.7, -1.0], [3.0, -1.6], [3.5, -1.2], [4.0, -1.7], [4.5, -1.2], [5.0, -1.1], [5.3, -1.4], [5.6, -1.0], [6.0, -1.5]],
  [[0.39, 0], [0.9, 0.2], [1.4, 0.1], [1.6, -0.4], [1.8, 0.4], [2.0, -0.2], [2.2, 0.9], [2.6, 0.4], [3.0, 1.3], [3.3, 0.6], [3.8, 1.5], [4.1, 0.8], [4.5, 0.6], [5.0, 0.2], [6.0, 0.35], [7.5, 0.4], [8.4, 0.4]],
  [[2.0, -2.2], [1.6, -1.7], [1.3, -1.0], [1.05, -0.75], [0.98, -0.55], [0.95, -0.1], [0.98, 0.6], [1.15, 0.9], [1.4, 1.05], [1.6, 0.8], [1.8, 1.3], [2.1, 0.7], [2.4, -0.3], [2.7, 0.2], [3.0, -0.5], [3.5, -0.8], [4.0, -0.4], [4.5, -0.9], [5.0, -0.3], [5.5, -0.6], [6.5, -0.3], [8.0, -0.1], [8.55, 0.0]],
  [[0.39, 0], [0.8, 0.15], [1.6, 0.2], [1.9, -0.4], [2.2, -1.9], [2.5, -2.3], [3.0, -2.1], [3.5, -1.9], [4.0, -2.1], [4.5, -2.0], [5.0, -2.15], [6.0, -2.0], [6.9, -1.95], [7.0, -2.05], [6.0, -2.15], [5.0, -2.25], [4.5, -2.3]],
  [[0.39, 0], [0.8, 0.2], [1.3, 0.2], [1.5, 1.0], [1.7, 1.5], [2.0, 2.1], [2.5, 2.15], [3.0, 2.1], [3.5, 2.0], [4.0, 1.9], [4.5, 1.5], [5.0, 1.0], [5.5, 0.8], [6.5, 0.75], [7.5, 0.6], [8.5, 0.55]],
  [[0.39, 0], [0.8, 0.15], [1.6, 0.1], [2.0, 0.6], [2.3, -0.5], [2.6, 0.8], [2.9, -0.2], [3.2, 0.7], [3.5, -0.4], [3.9, 0.3], [4.2, -0.6], [4.6, 0.0], [5.0, -0.4], [5.6, -0.2], [6.2, -0.5], [6.6, -0.8], [7.0, -0.7]],
  [[0.39, 0], [0.85, 0.2], [1.4, 0.3], [1.65, -0.5], [1.72, 3.6], [1.78, -0.2], [1.85, -1.5], [2.0, -0.6], [2.3, -1.2], [2.6, -0.4], [3.0, -0.9], [3.5, -0.2], [4.0, -0.7], [4.5, -0.2], [5.2, -0.4], [6.0, -0.1], [7.0, -0.2], [8.2, -0.1]],
  [[0.39, 0], [0.85, 0.2], [1.5, 0.2], [1.85, 0.8], [2.1, 0.3], [2.4, 1.0], [2.8, -0.1], [3.2, 0.5], [3.6, 0.2], [4.0, 0.5], [5.0, 0.25], [6.5, 0.2], [8.0, 0.25], [8.55, 0.25]],
  [[1.8, -2.3], [1.5, -1.5], [1.2, -0.9], [1.0, -0.7], [0.94, -0.35], [0.93, 0.3], [1.0, 0.85], [1.3, 1.0], [1.5, 0.9], [1.7, 1.9], [1.85, 0.4], [2.0, -0.3], [2.2, -1.5], [2.4, -1.9], [2.8, -1.4], [3.2, -1.8], [3.6, -1.1], [4.0, -1.5], [4.3, -0.9], [4.8, -1.2], [5.0, -1.5], [5.5, -1.6], [6.4, -1.7], [7.0, -1.8]],
  [[0.39, 0], [0.8, 0.2], [1.4, 0.2], [1.6, 0.6], [1.75, 1.3], [1.9, 2.3], [2.0, 1.8], [2.2, 2.2], [2.5, 1.5], [2.9, 1.7], [3.4, 1.3], [4.0, 1.2], [4.4, 0.9], [5.0, 0.8], [6.0, 0.7], [7.5, 0.6], [8.5, 0.6]],
  [[4.0, -1.95], [4.5, -1.3], [5.0, -1.0], [5.6, -0.9], [6.0, -1.2], [6.4, -1.4], [6.8, -1.3], [7.0, -1.05], [6.6, -0.95], [6.0, -0.7], [5.8, -0.3]],
  [[8.55, 0.0], [8.3, -0.3], [8.1, -0.45], [8.05, -1.15], [8.0, -0.6], [7.8, -1.3], [7.5, -1.4], [7.2, -1.1], [7.0, -0.8], [6.8, -0.6]],
  [[0.39, 0], [0.9, 0.1], [1.5, -0.3], [1.8, -0.8], [2.1, -0.3], [2.4, -1.0], [2.7, -0.5], [3.0, -1.3], [3.4, -0.9], [3.8, -1.6], [4.2, -1.1], [4.6, -1.7], [5.0, -1.3], [5.5, -1.9], [6.0, -2.1], [6.5, -2.0], [7.0, -1.85]],
  [[0.39, 0], [0.8, 0.2], [1.5, 0.15], [1.9, 0.0], [2.3, 0.6], [2.7, 0.2], [3.1, -0.3], [3.5, 0.2], [4.0, -0.1], [4.5, 0.25], [5.0, 0.05], [5.5, 0.15], [6.5, 0.0], [7.5, 0.1], [8.5, 0.1]],
  [[0.39, 0], [0.8, 0.2], [1.6, 0.2], [1.8, 1.5], [1.95, 0.5], [2.1, 1.1], [2.3, 0.0], [2.6, 0.7], [2.9, -0.4], [3.2, 0.4], [3.6, -0.3], [4.0, 0.3], [4.5, 0.0], [5.0, 0.2], [6.0, 0.1], [7.0, 0.2], [8.3, 0.2]],
  [[0.39, 0], [0.8, 0.2], [1.6, 0.15], [1.75, -0.8], [1.9, 0.6], [2.1, -0.9], [2.4, -0.2], [2.7, -1.2], [3.0, -0.6], [3.4, -1.1], [3.8, -0.5], [4.2, -0.9], [4.6, -0.4], [5.2, -0.6], [6.0, -0.4], [7.0, -0.5], [7.5, -0.6]],
  [[1.5, -1.6], [1.3, -0.9], [1.05, -0.75], [0.96, -0.5], [0.93, 0.05], [0.96, 0.75], [1.15, 0.95], [1.4, 0.9], [1.6, 1.1], [1.75, 2.6], [1.8, 1.1], [2.0, 1.4], [2.3, 1.0], [2.6, 1.4], [3.0, 0.9], [3.4, 1.3], [3.8, 0.8], [4.2, 1.1], [4.6, 0.6], [5.2, 0.7], [6.5, 0.6], [8.0, 0.55]],
  [[0.39, 0], [0.8, 0.2], [1.5, 0.1], [1.7, -0.6], [1.85, -1.3], [2.0, -1.8], [2.3, -1.4], [2.6, -2.0], [2.9, -1.6], [3.3, -2.0], [3.7, -1.7], [4.1, -2.0], [4.6, -1.8], [5.2, -1.95], [6.2, -1.9], [7.0, -1.95], [6.5, -2.05], [5.5, -2.1]],
  [[0.39, 0], [0.8, 0.2], [1.6, 0.2], [1.9, 0.3], [2.2, 0.1], [2.5, 0.35], [2.8, 0.0], [3.1, 0.3], [3.5, 0.05], [4.0, 0.25], [4.5, 0.1], [5.0, 0.2], [6.0, 0.15], [7.0, 0.15], [8.0, 0.15], [8.5, 0.2]],
  [[0.39, 0], [0.8, 0.2], [1.6, 0.2], [2.0, -0.2], [2.4, 0.2], [2.8, -0.4], [3.2, 0.0], [3.6, -0.5], [4.0, -0.2], [4.5, -0.4], [5.0, -0.2], [5.5, -0.3], [6.5, -0.1], [7.5, -0.15], [8.4, -0.05]],
  [[0.39, 0], [0.85, 0.2], [1.5, 0.3], [1.7, 1.0], [1.85, 1.8], [2.0, 1.0], [2.2, 1.5], [2.5, 0.9], [2.8, 1.3], [3.2, 0.8], [3.6, 1.1], [4.0, 0.7], [4.5, 0.9], [5.0, 0.5], [5.5, 0.6], [6.5, 0.5], [7.5, 0.45], [8.5, 0.45]],
  [[0.39, 0], [0.85, 0.2], [1.5, 0.1], [1.7, -0.4], [1.8, -1.0], [2.0, -1.3], [2.3, -0.8], [2.6, -1.4], [3.0, -1.0], [3.5, -1.5], [4.0, -1.1], [4.5, -1.4], [5.0, -1.7], [5.5, -1.75], [6.5, -1.8], [7.0, -1.75]],
  [[2.4, -2.0], [1.9, -1.8], [1.5, -1.3], [1.2, -0.8], [1.0, -0.7], [0.95, -0.3], [0.94, 0.5], [1.05, 0.95], [1.3, 1.05], [1.55, 1.0], [1.68, 1.6], [1.72, 3.1], [1.77, 0.9], [1.9, 1.6], [2.1, 0.9], [2.4, 1.6], [2.8, 1.2], [3.2, 1.6], [3.6, 1.3], [4.0, 1.7], [4.4, 1.2], [5.0, 1.0], [6.0, 0.85], [7.5, 0.7], [8.5, 0.6]],
  [[0.39, 0], [0.8, 0.2], [1.6, 0.2], [1.75, 1.9], [1.85, 0.2], [2.0, 1.5], [2.2, 0.6], [2.5, 1.7], [2.8, 0.8], [3.1, 1.5], [3.5, 0.5], [3.9, 1.2], [4.3, 0.4], [4.8, 0.8], [5.5, 0.5], [6.5, 0.45], [8.0, 0.4]],
  [[0.39, 0], [0.8, 0.2], [1.6, 0.15], [1.8, -1.6], [1.95, -0.5], [2.15, -1.7], [2.4, -1.0], [2.7, -1.8], [3.0, -1.2], [3.3, -1.9], [3.7, -1.3], [4.1, -1.8], [4.6, -1.4], [5.2, -1.8], [6.0, -1.7], [6.8, -1.75], [7.0, -1.9]],
  [[0.39, 0], [0.8, 0.2], [1.6, 0.2], [1.9, 0.9], [2.2, 0.3], [2.5, 1.1], [2.8, 0.5], [3.1, 0.9], [3.4, 0.2], [3.7, 0.8], [4.0, 0.3], [4.4, 0.7], [4.8, 0.3], [5.3, 0.5], [6.0, 0.3], [7.0, 0.35], [8.55, 0.35]],
  [[0.39, 0], [0.8, 0.2], [1.6, 0.15], [1.9, -0.7], [2.2, -0.2], [2.5, -1.1], [2.8, -0.3], [3.1, -0.9], [3.4, -0.4], [3.7, -1.0], [4.0, -0.6], [4.4, -1.2], [4.8, -0.8], [5.3, -1.1], [5.8, -0.9], [6.3, -1.0], [7.0, -1.1]],
  [[2.8, -2.1], [2.2, -2.0], [1.7, -1.7], [1.35, -0.95], [1.1, -0.75], [0.97, -0.6], [0.93, -0.2], [0.94, 0.6], [1.05, 0.95], [1.35, 1.05], [1.6, 1.2], [1.8, 1.7], [2.0, 1.2], [2.2, 1.9], [2.5, 1.3], [2.9, 1.9], [3.3, 1.4], [3.7, 1.9], [4.1, 1.5], [4.5, 1.7], [4.8, 1.2], [5.5, 1.0], [7.0, 0.8], [8.5, 0.65]],
  [[0.39, 0], [0.8, 0.2], [1.6, 0.2], [1.8, 0.7], [2.0, 0.0], [2.3, 0.5], [2.6, -0.6], [2.9, 0.2], [3.2, -0.8], [3.5, 0.0], [3.9, -0.8], [4.3, -0.2], [4.7, -0.7], [5.2, -0.3], [5.8, -0.5], [6.5, -0.2], [7.5, -0.3], [8.3, -0.2]],
  [[0.39, 0], [0.85, 0.2], [1.5, 0.2], [1.68, -1.8], [1.72, -0.4], [1.8, -2.2], [1.9, -1.0], [2.1, -2.2], [2.5, -1.9], [3.0, -2.3], [3.6, -2.1], [4.2, -2.25], [5.0, -2.1], [6.0, -2.05], [6.5, -2.0]],
  [[0.39, 0], [0.8, 0.2], [1.6, 0.2], [2.0, 1.8], [2.3, 2.0], [2.7, 1.6], [3.1, 2.0], [3.5, 1.5], [3.9, 1.7], [4.3, 1.3], [4.7, 1.1], [5.2, 0.9], [6.0, 0.75], [7.0, 0.7], [8.0, 0.6], [8.55, 0.5]],
  [[0.39, 0], [0.8, 0.2], [1.5, 0.2], [1.7, 0.5], [1.78, 2.9], [1.84, 0.4], [1.95, 2.1], [2.1, 0.0], [2.4, -0.8], [2.7, -1.5], [3.0, -1.0], [3.4, -1.7], [3.8, -1.2], [4.2, -1.6], [4.7, -1.3], [5.3, -1.5], [6.2, -1.5], [7.0, -1.6]],
  [[0.39, 0], [0.8, 0.2], [1.6, 0.2], [1.8, -0.2], [2.0, -1.2], [2.2, 0.4], [2.4, 1.3], [2.6, 0.2], [2.8, -0.9], [3.0, 0.1], [3.3, 1.1], [3.6, 0.0], [3.9, -1.0], [4.2, -0.2], [4.5, 0.5], [5.0, 0.0], [6.0, 0.2], [7.5, 0.25], [8.5, 0.3]],
  [[0.39, 0], [0.8, 0.2], [1.6, 0.2], [1.8, 1.0], [2.0, 1.9], [2.2, 1.0], [2.4, -0.2], [2.6, -1.3], [2.8, -0.5], [3.0, 0.8], [3.3, 1.6], [3.6, 0.7], [3.9, -0.4], [4.2, 0.3], [4.6, 1.0], [5.0, 0.4], [6.0, 0.3], [7.0, 0.3]],
  [[3.2, -2.1], [2.6, -2.1], [2.0, -1.9], [1.6, -1.4], [1.3, -0.95], [1.0, -0.8], [0.95, -0.5], [0.93, 0.4], [1.0, 0.9], [1.25, 1.05], [1.5, 0.7], [1.7, 0.2], [1.9, -0.6], [2.1, -1.4], [2.3, -0.8], [2.6, 0.1], [2.9, -0.7], [3.2, -1.5], [3.5, -0.9], [3.9, -0.2], [4.3, -0.9], [4.8, -0.5], [5.5, -0.7], [6.5, -0.5], [7.5, -0.4]],
  [[0.39, 0], [0.8, 0.2], [1.6, 0.15], [1.75, 0.8], [1.85, -0.4], [2.0, 0.9], [2.15, -0.6], [2.3, 0.5], [2.5, -0.3], [2.7, 0.9], [2.9, 0.0], [3.2, 0.6], [3.5, -0.1], [3.8, 0.5], [4.2, 0.0], [4.7, 0.3], [5.5, 0.1], [6.5, 0.15], [8.0, 0.1]],
  [[0.39, 0], [0.8, 0.2], [1.6, 0.2], [1.7, -0.3], [1.8, -2.0], [1.9, -2.4], [2.0, -1.2], [2.2, -0.5], [2.5, -1.5], [2.8, -2.1], [3.1, -1.4], [3.4, -0.8], [3.8, -1.6], [4.2, -2.1], [4.6, -1.6], [5.0, -1.2], [5.5, -1.5], [6.0, -1.6]],
];

const tracesR = [
  [[0.39, 0], [1.0, 0.0], [2.0, 0.0], [3.5, 0.02], [5.0, 0.0], [7.0, 0.0], [8.55, 0.0], [8.4, 0.05], [7.0, 0.1], [5.5, 0.05]],
  [[0.39, 0], [0.8, 0.02], [1.2, 0.03], [2.0, 0.1], [3.0, 0.12], [4.0, 0.15], [5.5, 0.2], [7.0, 0.2], [8.2, 0.22], [8.55, 0.2], [8.3, 0.15], [7.5, 0.12], [6.0, 0.1]],
  [[0.39, 0], [0.85, 0.05], [0.95, 0.35], [1.1, 0.45], [1.3, 0.55], [1.5, 0.65], [1.7, 0.8], [1.75, 0.95], [1.85, 0.7], [2.0, 0.9], [2.3, 0.8], [2.6, 0.95], [3.0, 0.85], [3.5, 1.0], [4.0, 1.05], [5.0, 1.08], [6.0, 1.07], [6.5, 1.0], [6.6, 0.95], [6.3, 0.9], [5.5, 0.85], [4.5, 0.75]],
  [[0.39, 0], [0.9, 0.05], [0.95, 0.3], [1.2, 0.5], [1.5, 0.6], [1.6, 0.85], [1.68, 1.1], [1.8, 1.0], [1.9, 0.6], [2.1, 0.8], [2.5, 1.0], [3.0, 1.05], [4.0, 1.1], [5.0, 1.1], [6.0, 1.05], [6.87, 0.95], [6.0, 0.75], [5.0, 0.55], [4.0, 0.4], [3.0, 0.3]],
  [[0.39, 0], [0.9, 0.03], [0.95, 0.25], [1.1, 0.35], [1.4, 0.45], [1.6, 0.3], [1.7, -0.4], [1.76, -1.35], [1.82, -0.3], [1.9, -1.2], [1.95, -0.2], [2.1, 0.4], [2.4, 0.6], [2.8, 0.4], [3.2, 0.7], [3.6, 0.5], [4.0, 0.6], [4.5, 0.4], [5.0, 0.45], [6.0, 0.3], [7.0, 0.25], [8.3, 0.2]],
  [[2.5, -0.7], [2.0, -0.65], [1.7, -0.5], [1.5, -0.35], [1.3, -0.3], [1.15, -0.2], [1.05, -0.3], [0.97, -0.25], [0.93, 0.0], [0.95, 0.3], [1.05, 0.35], [1.3, 0.45], [1.6, 0.55], [1.9, 0.75], [2.2, 0.6], [2.5, 0.85], [3.0, 0.6], [3.5, 0.8], [4.0, 0.5], [4.5, 0.6], [5.0, 0.4], [6.0, 0.35], [7.5, 0.3], [8.5, 0.25]],
  [[3.5, -0.76], [2.5, -0.76], [2.2, -0.7], [1.9, -0.55], [1.6, -0.45], [1.4, -0.3], [1.2, -0.35], [1.0, -0.25], [0.94, -0.1], [0.94, 0.2], [1.0, 0.3], [1.3, 0.4], [1.55, 0.5], [1.65, 0.8], [1.8, 0.65], [2.0, 0.5], [2.3, 0.7], [2.7, 0.3], [3.0, 0.5], [3.5, 0.2], [4.0, 0.4], [5.0, 0.2], [6.5, 0.15], [8.0, 0.1]],
  [[5.7, -0.75], [4.5, -0.77], [3.5, -0.76], [2.8, -0.72], [2.2, -0.6], [1.8, -0.5], [1.5, -0.3], [1.2, -0.25], [1.0, -0.3], [0.96, -0.2], [0.93, 0.15], [1.0, 0.35], [1.2, 0.4], [1.5, 0.5], [1.7, 0.3], [1.8, 0.9], [1.95, 0.4], [2.2, 0.1], [2.5, 0.45], [3.0, 0.0], [3.5, 0.3], [4.0, -0.1], [4.5, 0.2], [5.5, 0.0], [7.0, 0.05]],
  [[0.39, 0], [0.9, 0.0], [1.4, 0.02], [1.7, 0.3], [1.9, -0.5], [2.1, 0.3], [2.3, -0.3], [2.6, 0.4], [2.9, -0.2], [3.2, 0.3], [3.5, -0.3], [3.8, 0.2], [4.2, -0.4], [4.6, 0.1], [5.0, -0.3], [5.5, 0.0], [6.0, -0.1], [7.0, 0.0]],
  [[0.39, 0], [0.9, 0.02], [1.5, 0.05], [1.8, 0.6], [2.0, 0.2], [2.15, 0.7], [2.19, 1.48], [2.25, 0.5], [2.7, 0.8], [3.0, 0.5], [3.3, 0.9], [3.6, 0.4], [4.0, 0.75], [4.5, 0.5], [5.0, 0.7], [5.5, 0.5], [6.2, 0.6], [6.8, 0.55]],
  [[0.39, 0], [0.9, 0.0], [1.6, 0.1], [1.75, -0.6], [1.8, 0.2], [1.9, -0.9], [2.0, -0.3], [2.3, -0.5], [2.6, -0.2], [3.0, -0.6], [3.4, -0.3], [3.8, -0.55], [4.2, -0.15], [4.6, -0.45], [5.0, -0.2], [5.5, -0.35], [6.0, -0.1]],
  [[0.39, 0], [0.95, 0.05], [1.3, 0.4], [1.6, 0.75], [1.7, 0.9], [1.85, 0.6], [2.0, 1.0], [2.2, 0.7], [2.5, 1.05], [2.8, 0.6], [3.1, 1.0], [3.4, 0.7], [3.8, 0.95], [4.3, 0.8], [4.8, 1.0], [5.5, 0.95], [6.4, 0.9], [6.87, 0.95], [6.0, 0.65], [5.0, 0.45], [4.0, 0.35]],
  [[3.0, -0.6], [3.5, -0.55], [4.0, -0.4], [4.5, -0.5], [5.0, -0.55], [5.5, -0.65], [5.72, -0.75], [5.72, -0.5], [6.0, -0.45], [6.5, -0.45], [7.05, -0.5], [6.6, -0.3], [6.2, -0.2], [5.8, -0.1]],
  [[6.0, 0.0], [7.27, -0.02], [7.6, -0.35], [7.98, -0.7], [8.08, -0.55], [8.1, -0.7], [8.12, -0.25], [8.3, -0.15], [8.55, -0.02]],
  [[0.39, 0], [0.9, 0.02], [1.2, 0.1], [1.5, -0.1], [1.75, -1.0], [1.8, -0.2], [2.0, -0.6], [2.1, -0.7], [2.3, -0.4], [2.6, -0.65], [3.0, -0.3], [3.5, -0.5], [4.0, -0.2], [4.5, -0.3], [5.0, -0.1], [6.0, -0.15], [7.0, -0.05], [8.0, 0.0]],
  [[0.39, 0], [0.9, 0.05], [0.96, 0.3], [1.2, 0.45], [1.55, 0.55], [1.7, 0.75], [1.85, 1.05], [2.0, 0.95], [2.2, 0.9], [2.6, 0.8], [3.2, 0.9], [3.8, 1.0], [4.3, 1.05], [5.0, 1.1], [6.0, 1.1], [6.5, 1.05], [6.55, 0.95], [6.0, 0.9], [5.0, 0.8]],
  [[0.39, 0], [0.92, 0.0], [1.5, 0.02], [1.8, 0.3], [2.0, 0.0], [2.3, 0.25], [2.6, 0.6], [2.9, 0.3], [3.3, 0.55], [3.7, 0.2], [4.1, 0.5], [4.5, 0.3], [5.0, 0.35], [5.5, 0.25], [6.0, 0.3], [6.7, 0.2], [7.5, 0.22], [8.4, 0.2]],
  [[0.39, 0], [0.9, 0.02], [1.3, 0.05], [1.6, 0.2], [1.8, -0.5], [1.9, -1.0], [1.95, -0.5], [2.1, -0.8], [2.4, -0.65], [2.8, -0.7], [3.3, -0.65], [3.8, -0.5], [4.4, -0.6], [5.0, -0.55], [5.6, -0.6], [6.0, -0.55]],
  [[0.39, 0], [0.9, 0.02], [1.3, 0.2], [1.6, 0.4], [1.9, 0.1], [2.1, 0.5], [2.4, 0.2], [2.7, 0.55], [3.0, 0.15], [3.4, 0.45], [3.8, 0.1], [4.3, 0.35], [4.8, 0.05], [5.5, 0.2], [6.5, 0.1], [7.5, 0.15], [8.5, 0.2]],
  [[0.39, 0], [0.9, 0.02], [1.5, 0.05], [1.7, 0.4], [2.0, 0.85], [2.4, 0.95], [2.9, 1.05], [3.5, 1.08], [4.0, 1.0], [4.5, 0.95], [5.0, 0.85], [5.5, 0.7], [6.07, 0.78], [6.6, 0.45], [7.1, 0.27], [6.5, 0.3], [6.0, 0.2]],
  [[0.39, 0], [0.9, 0.0], [1.5, 0.1], [1.8, -0.3], [2.0, -0.7], [2.1, -0.5], [2.3, -0.9], [2.5, -0.4], [2.8, -0.85], [3.0, -0.5], [3.5, -0.75], [4.0, -0.6], [4.5, -0.85], [5.0, -0.65], [5.5, -0.8], [5.9, -0.7]],
  [[0.39, 0], [0.9, 0.03], [1.0, 0.3], [1.3, 0.45], [1.45, 0.55], [1.6, 0.0], [1.7, -0.9], [1.73, -0.3], [1.8, 0.5], [1.9, 0.9], [2.0, 0.6], [2.3, 1.0], [2.7, 0.7], [3.1, 0.95], [3.5, 0.6], [4.0, 0.9], [4.5, 0.6], [5.0, 0.8], [5.5, 0.55], [6.3, 0.6], [7.0, 0.5]],
  [[0.39, 0], [0.9, 0.0], [1.5, 0.02], [2.0, 0.05], [2.5, -0.1], [3.0, 0.1], [3.5, -0.2], [4.0, 0.05], [4.5, -0.3], [5.0, -0.05], [5.5, -0.25], [6.0, -0.05], [6.6, -0.2], [7.0, -0.1]],
  [[2.0, -0.3], [2.5, -0.45], [3.0, -0.6], [3.3, -0.5], [3.6, -0.95], [3.62, -0.55], [4.0, -0.5], [4.4, -0.7], [5.0, -0.45], [5.3, -0.6], [5.7, -0.5], [6.0, -0.6], [6.3, -0.3]],
  [[0.39, 0], [0.9, 0.02], [1.5, 0.1], [1.7, 0.5], [1.9, 0.3], [2.1, 0.65], [2.4, 0.4], [2.7, 0.75], [3.0, 0.45], [3.4, 0.7], [3.8, 0.4], [4.3, 0.65], [4.8, 0.35], [5.4, 0.5], [6.0, 0.3], [7.0, 0.3], [8.0, 0.25]],
  [[0.39, 0], [0.9, 0.02], [1.5, 0.05], [1.75, 0.2], [2.0, 0.45], [2.2, 0.15], [2.5, 0.5], [2.8, 0.1], [3.1, 0.4], [3.5, 0.05], [3.9, 0.35], [4.3, 0.0], [4.8, 0.25], [5.3, 0.0], [6.0, 0.1], [7.0, 0.05], [8.55, 0.05]],
  [[0.39, 0], [0.9, 0.03], [1.0, 0.32], [1.3, 0.5], [1.6, 0.6], [1.75, 1.05], [1.85, 0.8], [1.95, 1.15], [2.1, 0.8], [2.4, 0.9], [2.8, 0.75], [3.2, 0.85], [3.6, 0.7], [4.0, 0.8], [4.5, 0.7], [5.0, 0.9], [5.5, 0.8], [6.0, 0.85], [6.5, 0.8], [6.6, 0.7], [6.0, 0.6], [5.0, 0.6]],
  [[0.39, 0], [0.9, 0.0], [1.6, 0.05], [1.8, -0.2], [2.0, 0.2], [2.3, -0.15], [2.6, 0.15], [3.0, -0.2], [3.4, 0.2], [3.8, -0.1], [4.2, 0.2], [4.7, -0.15], [5.2, 0.1], [5.8, -0.05], [6.5, 0.05], [7.5, 0.0]],
  [[0.39, 0], [0.9, 0.02], [1.4, 0.3], [1.6, 0.5], [1.8, 0.3], [2.0, 0.6], [2.3, 0.35], [2.6, 0.65], [3.0, 0.55], [3.5, 0.65], [4.0, 0.55], [4.5, 0.6], [5.0, 0.5], [5.5, 0.45], [6.0, 0.4], [7.0, 0.35], [8.0, 0.3]],
  [[0.39, 0], [0.9, 0.02], [1.5, 0.05], [1.68, -0.5], [1.72, 0.4], [1.8, -0.8], [1.85, 0.3], [2.0, -0.4], [2.3, -0.25], [2.7, -0.45], [3.1, -0.2], [3.5, -0.4], [4.0, -0.25], [4.5, -0.4], [5.0, -0.3], [5.5, -0.45], [6.0, -0.3], [6.3, -0.4]],
  [[0.39, 0], [0.9, 0.02], [1.5, 0.05], [2.0, 0.7], [2.2, 0.95], [2.25, 0.7], [2.5, 0.85], [3.0, 0.95], [3.4, 0.85], [3.8, 1.0], [4.2, 0.9], [4.8, 1.05], [5.5, 1.0], [6.2, 1.0], [6.8, 0.95], [6.87, 0.9], [6.0, 0.8], [5.0, 0.7], [4.0, 0.55]],
  [[0.39, 0], [0.9, 0.0], [1.5, 0.1], [1.8, 0.4], [2.0, 0.1], [2.2, 0.35], [2.5, 0.0], [2.9, 0.3], [3.3, 0.0], [3.7, 0.3], [4.1, 0.1], [4.6, 0.3], [5.2, 0.15], [6.0, 0.2], [7.0, 0.18], [8.0, 0.2], [8.5, 0.18]],
  [[0.39, 0], [0.9, 0.02], [1.5, 0.1], [1.72, 0.6], [1.8, 0.2], [1.9, 0.75], [2.1, 0.45], [2.4, 0.8], [2.8, 0.5], [3.2, 0.8], [3.6, 0.55], [4.0, 0.85], [4.5, 0.65], [5.0, 0.8], [5.6, 0.7], [6.3, 0.75], [6.8, 0.7], [7.0, 0.6]],
  [[0.39, 0], [0.9, 0.02], [1.5, 0.05], [1.7, -0.3], [1.85, -0.7], [1.95, -0.2], [2.2, -0.55], [2.5, -0.3], [2.9, -0.6], [3.3, -0.35], [3.7, -0.6], [4.1, -0.35], [4.6, -0.55], [5.1, -0.4], [5.7, -0.55], [6.1, -0.45]],
  [[0.39, 0], [0.9, 0.02], [1.6, 0.1], [1.8, 0.55], [2.0, 0.35], [2.3, 0.55], [2.6, 0.3], [3.0, 0.6], [3.4, 0.35], [3.8, 0.6], [4.2, 0.4], [4.7, 0.55], [5.2, 0.4], [5.8, 0.5], [6.5, 0.4], [7.5, 0.35], [8.4, 0.3]],
  [[0.39, 0], [0.9, 0.02], [1.5, 0.05], [1.8, 0.15], [2.0, -0.1], [2.4, 0.1], [2.8, -0.05], [3.2, 0.1], [3.6, -0.1], [4.0, 0.12], [4.5, -0.05], [5.0, 0.1], [5.5, 0.0], [6.5, 0.05], [8.0, 0.08], [8.55, 0.1]],
  [[0.39, 0], [0.9, 0.02], [1.4, 0.25], [1.65, 0.65], [1.8, 0.45], [2.0, 0.8], [2.3, 0.6], [2.6, 0.95], [3.0, 0.75], [3.4, 1.0], [3.9, 0.8], [4.4, 1.0], [5.0, 0.9], [5.6, 1.0], [6.2, 0.95], [6.55, 0.9], [6.2, 0.75], [5.5, 0.7], [4.5, 0.55]],
  [[0.39, 0], [0.9, 0.02], [1.5, 0.05], [1.72, -0.2], [1.76, -1.25], [1.8, -0.1], [1.95, 0.3], [2.2, 0.2], [2.6, 0.35], [3.0, 0.2], [3.4, 0.4], [3.8, 0.15], [4.3, 0.35], [4.8, 0.15], [5.4, 0.3], [6.0, 0.2], [7.0, 0.2], [8.2, 0.15]],
  [[1.6, -0.5], [1.3, -0.3], [1.1, -0.28], [0.98, -0.3], [0.94, -0.05], [0.95, 0.25], [1.1, 0.38], [1.35, 0.5], [1.6, 0.7], [1.8, 0.85], [2.0, 0.65], [2.3, 0.9], [2.7, 0.65], [3.1, 0.85], [3.6, 0.6], [4.1, 0.75], [4.6, 0.5], [5.2, 0.6], [6.0, 0.45], [7.0, 0.4], [8.0, 0.35]],
  [[0.39, 0], [0.9, 0.02], [1.5, 0.05], [1.8, -0.35], [2.0, -0.6], [2.3, -0.75], [2.7, -0.6], [3.1, -0.75], [3.5, -0.6], [4.0, -0.7], [4.5, -0.6], [5.0, -0.7], [5.5, -0.6], [5.72, -0.7]],
  [[0.39, 0], [0.9, 0.02], [1.5, 0.1], [1.8, 0.7], [2.0, 0.5], [2.3, 0.85], [2.6, 0.55], [3.0, 0.9], [3.4, 0.6], [3.8, 0.9], [4.3, 0.6], [4.8, 0.9], [5.3, 0.65], [5.8, 0.9], [6.3, 0.7], [6.87, 0.85]],
  [[0.39, 0], [0.9, 0.02], [1.5, 0.05], [1.8, 0.3], [2.1, 0.1], [2.4, 0.45], [2.7, 0.2], [3.0, 0.45], [3.4, 0.25], [3.8, 0.5], [4.2, 0.25], [4.6, 0.45], [5.1, 0.25], [5.6, 0.4], [6.2, 0.25], [7.0, 0.25], [8.3, 0.25]],
  [[0.39, 0], [0.9, 0.02], [1.5, 0.05], [1.75, -0.4], [1.9, 0.5], [2.1, 1.0], [2.3, 0.75], [2.6, 1.0], [3.0, 0.85], [3.5, 1.05], [4.0, 0.95], [4.5, 1.05], [5.0, 0.95], [5.5, 1.05], [6.0, 0.95], [6.5, 0.95], [6.6, 0.85], [6.0, 0.7], [5.0, 0.65]],
];

const isMajor = (v: number) => Math.abs(v - Math.round(v)) < 1e-6;

const matlabAxes = {
  id: 'matlabAxes',
  afterDraw(chart: any, _args: any, opts: any) {
    const { ctx, chartArea: a, scales } = chart;
    const xs = scales.x;
    const ys = scales.y;
    const L = 9;
    ctx.save();
    ctx.strokeStyle = '#262626';
    ctx.lineWidth = 1;
    ctx.beginPath();
    xs.ticks.forEach((t: any) => {
      if (!isMajor(t.value)) return;
      const px = Math.round(xs.getPixelForValue(t.value)) + 0.5;
      ctx.moveTo(px, a.bottom);
      ctx.lineTo(px, a.bottom - L);
      ctx.moveTo(px, a.top);
      ctx.lineTo(px, a.top + L);
    });
    ys.ticks.forEach((t: any) => {
      if (!isMajor(t.value)) return;
      const py = Math.round(ys.getPixelForValue(t.value)) + 0.5;
      ctx.moveTo(a.left, py);
      ctx.lineTo(a.left + L, py);
      ctx.moveTo(a.right, py);
      ctx.lineTo(a.right - L, py);
    });
    ctx.stroke();
    ctx.strokeRect(Math.round(a.left) + 0.5, Math.round(a.top) + 0.5, Math.round(a.right - a.left) - 1, Math.round(a.bottom - a.top) - 1);

    // y label: delta with subscript + " [deg]"
    const cy = (a.top + a.bottom) / 2;
    ctx.translate(opts.labelX, cy);
    ctx.rotate(-Math.PI / 2);
    ctx.fillStyle = '#262626';
    ctx.textBaseline = 'alphabetic';
    ctx.textAlign = 'left';
    const fMain = `italic 19px ${FONT}`;
    const fSub = `italic 13px ${FONT}`;
    const fRest = `19px ${FONT}`;
    ctx.font = fMain;
    const w1 = ctx.measureText('δ').width;
    ctx.font = fSub;
    const w2 = ctx.measureText(opts.sub).width;
    ctx.font = fRest;
    const w3 = ctx.measureText(' [deg]').width;
    let u = -(w1 + w2 + w3) / 2;
    ctx.font = fMain;
    ctx.fillText('δ', u, 0);
    u += w1 + 0.5;
    ctx.font = fSub;
    ctx.fillText(opts.sub, u, 4);
    u += w2;
    ctx.font = fRest;
    ctx.fillText(' [deg]', u, 0);
    ctx.restore();

    if (opts.xTitle) {
      ctx.save();
      ctx.fillStyle = '#262626';
      ctx.font = `19px ${FONT}`;
      ctx.textAlign = 'center';
      ctx.textBaseline = 'middle';
      ctx.fillText(opts.xTitle, (a.left + a.right) / 2, a.bottom + opts.xTitleOffset);
      ctx.restore();
    }
  },
};

type PanelProps = {
  top: number;
  plotH: number;
  axisH: number;
  yMin: number;
  yMax: number;
  sub: string;
  traces: number[][][];
  red: number[][];
  xTitle?: string;
};

function Panel({ top, plotH, axisH, yMin, yMax, sub, traces, red, xTitle }: PanelProps) {
  const ref = useRef<HTMLCanvasElement>(null);
  const height = 10 + plotH + axisH;
  useEffect(() => {
    const canvas = ref.current;
    if (!canvas) return;
    const redPts: { x: number; y: number }[] = [];
    machGrid.forEach((m, i) => (red[i] || []).forEach((y) => redPts.push({ x: m, y })));
    const datasets: any[] = [
      {
        data: redPts,
        showLine: false,
        pointStyle: 'line',
        pointRotation: 90,
        pointRadius: 2.3,
        pointBorderWidth: 2.6,
        pointBorderColor: '#ff0000',
        pointBackgroundColor: '#ff0000',
        order: 0,
      },
    ];
    traces.forEach((t) =>
      datasets.push({
        data: t.map(([x, y]) => ({ x, y })),
        showLine: true,
        borderColor: 'rgba(0,0,0,0.8)',
        borderWidth: 1.5,
        pointRadius: 0,
        tension: 0.3,
        fill: false,
        order: 1,
      })
    );
    const tickFont = { family: FONT, size: 13 };
    const chart = new Chart(canvas, {
      type: 'scatter',
      data: { datasets },
      options: {
        animation: false,
        responsive: false,
        events: [],
        layout: { padding: { top: 10, right: 16, left: 0, bottom: 0 } },
        plugins: {
          legend: { display: false },
          tooltip: { enabled: false },
          matlabAxes: { sub, labelX: 29, xTitle, xTitleOffset: 38 },
        } as any,
        scales: {
          x: {
            type: 'linear',
            min: machMin,
            max: machMax,
            afterFit: (s: any) => {
              s.height = axisH;
              s.paddingLeft = 0;
              s.paddingRight = 0;
            },
            ticks: {
              stepSize: 0.2,
              autoSkip: false,
              maxRotation: 0,
              minRotation: 0,
              padding: 6,
              color: '#262626',
              font: tickFont,
              callback: (v: any) => (Math.abs(v - machMin) < 1e-6 ? 'min' : Math.abs(v - machMax) < 1e-6 ? 'max' : ''),
            },
            grid: { color: '#dcdcdc', lineWidth: 1, drawTicks: false },
            border: { display: false, dash: [2, 2] },
          },
          y: {
            type: 'linear',
            min: yMin,
            max: yMax,
            afterFit: (s: any) => {
              s.width = 79;
              s.paddingTop = 0;
              s.paddingBottom = 0;
            },
            ticks: {
              stepSize: 0.2,
              autoSkip: false,
              padding: 7,
              color: '#262626',
              font: tickFont,
              callback: (v: any) => (Math.abs(v - yMin) < 1e-6 ? 'min' : Math.abs(v - yMax) < 1e-6 ? 'max' : ''),
            },
            grid: { color: '#dcdcdc', lineWidth: 1, drawTicks: false },
            border: { display: false, dash: [2, 2] },
          },
        },
      } as any,
      plugins: [matlabAxes as any],
    });
    return () => chart.destroy();
  }, []);
  return (
    <canvas
      ref={ref}
      width={917}
      height={height}
      style={{ position: 'absolute', left: 0, top: top - 10, width: 917, height, display: 'block' }}
    />
  );
}

export default function App() {
  return (
    <div style={{ position: 'absolute', left: 0, top: 0, width: 917, height: 991, overflow: 'hidden', background: '#ffffff' }}>
      <Panel top={10} plotH={264} axisH={26} yMin={-4} yMax={4} sub="a" traces={tracesA} red={redA} />
      <Panel top={350} plotH={264} axisH={26} yMin={-4} yMax={4} sub="e" traces={tracesE} red={redE} />
      <Panel top={689} plotH={251} axisH={51} yMin={-2} yMax={2} sub="r" traces={tracesR} red={redR} xTitle="Mach" />
    </div>
  );
}
